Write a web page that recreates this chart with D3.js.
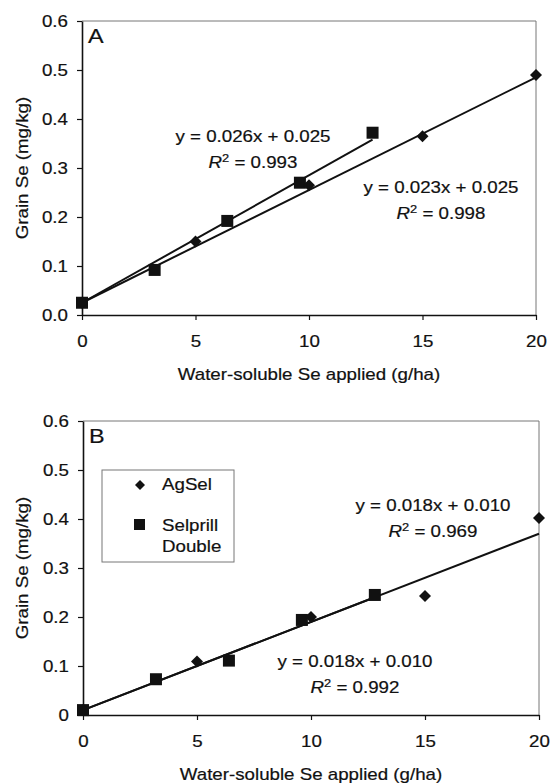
<!DOCTYPE html>
<html>
<head>
<meta charset="utf-8">
<script src="https://cdn.jsdelivr.net/npm/d3@7"></script>
<style>
  body { margin: 0; background: #fff; }
  text { font-family: "Liberation Sans", Arial, sans-serif; fill: #111; stroke: #111; stroke-width: 0.2px; }
</style>
</head>
<body>
<div id="vis"></div>
<script>
const WIDTH = 550;
const HEIGHT = 783;
const STRETCH = 1.17;

// data
const xTicks = [0, 5, 10, 15, 20];
const yTickVals = [0, 0.1, 0.2, 0.3, 0.4, 0.5, 0.6];
const yLabelsA = ["0.0", "0.1", "0.2", "0.3", "0.4", "0.5", "0.6"];
const yLabelsB = ["0", "0.1", "0.2", "0.3", "0.4", "0.5", "0.6"];

const agselX = [0, 5, 10, 15, 20];
const agselA = [0.025, 0.15, 0.265, 0.365, 0.49];
const agselB = [0.01, 0.109, 0.2, 0.243, 0.402];

const selprillX = [0, 3.2, 6.4, 9.6, 12.8];
const selprillA = [0.025, 0.092, 0.192, 0.27, 0.372];
const selprillB = [0.01, 0.073, 0.111, 0.194, 0.245];

// trendline equations as printed
const agselTrendA = [0.023, 0.025];
const selprillTrendA = [0.026, 0.025];
const agselTrendB = [0.018, 0.010];
const selprillTrendB = [0.018, 0.010];

const r2A = ["0.993", "0.998"];
const r2B = ["0.969", "0.992"];

const svg = d3.select("#vis").append("svg")
    .attr("width", WIDTH)
    .attr("height", HEIGHT);

// text is drawn a bit wider than normal, like the original
function label(g, x, y, str, anchor, size, rot) {
    return g.append("text")
        .attr("transform", "translate(" + x + "," + y + ")" + (rot ? " rotate(" + rot + ")" : "") + " scale(" + STRETCH + ",1)")
        .attr("text-anchor", anchor)
        .style("font-size", size + "px")
        .text(str);
}

function eqLabel(g, x, y, slope, icpt, r2) {
    label(g, x, y, "y = " + slope.toFixed(3) + "x + " + icpt.toFixed(3), "middle", 16);
    const t = g.append("text")
        .attr("transform", "translate(" + x + "," + (y + 26) + ") scale(" + STRETCH + ",1)")
        .attr("text-anchor", "middle")
        .style("font-size", "16px");
    t.append("tspan").style("font-style", "italic").text("R");
    t.append("tspan").attr("dy", -6).style("font-size", "11px").text("2");
    t.append("tspan").attr("dy", 6).text(" = " + r2);
}

function panel(p) {
    const g = svg.append("g");
    const x = d3.scaleLinear().domain([0, 20]).range([p.left, p.right]);
    const y = d3.scaleLinear().domain([0, 0.6]).range([p.bottom, p.top]);

    // frame top / right
    g.append("path")
        .attr("d", "M" + p.left + "," + p.top + "H" + p.right + "V" + p.bottom)
        .attr("fill", "none")
        .attr("stroke", "#777")
        .attr("stroke-width", 1);

    const xa = g.append("g")
        .attr("transform", "translate(0," + p.bottom + ")")
        .call(d3.axisBottom(x).tickValues(xTicks).tickSize(5).tickSizeOuter(0).tickPadding(16).tickFormat(d3.format("d")));
    const ya = g.append("g")
        .attr("transform", "translate(" + p.left + ",0)")
        .call(d3.axisLeft(y).tickValues(yTickVals).tickSize(5).tickSizeOuter(0).tickPadding(7)
            .tickFormat((d, i) => p.yLabels[i]));
    [xa, ya].forEach(a => {
        a.select(".domain").attr("stroke", "#111").attr("stroke-width", 1.6);
        a.selectAll(".tick line").attr("stroke", "#111").attr("stroke-width", 1.2);
        a.selectAll(".tick text")
            .attr("font-family", null).attr("font-size", null)
            .style("font-size", "16px").attr("fill", "#111");
    });
    xa.selectAll(".tick text").attr("transform", "scale(" + STRETCH + ",1)");
    ya.selectAll(".tick text").attr("transform", "scale(" + STRETCH + ",1)").attr("dy", "0.35em");

    // trendlines
    const line = d3.line().x(d => x(d[0])).y(d => y(d[1]));
    [[p.agTrend, agselX], [p.selTrend, selprillX]].forEach(([tr, xs]) => {
        const ext = d3.extent(xs);
        g.append("path")
            .datum(ext.map(v => [v, tr[0] * v + tr[1]]))
            .attr("d", line)
            .attr("fill", "none")
            .attr("stroke", "#111")
            .attr("stroke-width", 2);
    });

    // markers
    g.selectAll("rect.sel")
        .data(selprillX.map((v, i) => [v, p.selY[i]]))
        .enter().append("rect")
        .attr("class", "sel")
        .attr("x", d => x(d[0]) - 6)
        .attr("y", d => y(d[1]) - 6)
        .attr("width", 12)
        .attr("height", 12)
        .attr("fill", "#111");
    g.selectAll("path.ag")
        .data(agselX.map((v, i) => [v, p.agY[i]]))
        .enter().append("path")
        .attr("class", "ag")
        .attr("d", d3.symbol(d3.symbolSquare, 72))
        .attr("transform", d => "translate(" + x(d[0]) + "," + y(d[1]) + ") rotate(45)")
        .attr("fill", "#111");

    label(g, p.left + 6, p.top + 22, p.name, "start", 20);
    label(g, (p.left + p.right) / 2, p.bottom + 65, "Water-soluble Se applied (g/ha)", "middle", 16);
    label(g, 28, (p.top + p.bottom) / 2, "Grain Se (mg/kg)", "middle", 16, -90);

    p.eqs.forEach(e => eqLabel(g, e[0], e[1], e[2][0], e[2][1], e[3]));
    return g;
}

panel({
    name: "A", left: 82, right: 536, top: 21, bottom: 315,
    yLabels: yLabelsA, agY: agselA, selY: selprillA,
    agTrend: agselTrendA, selTrend: selprillTrendA,
    eqs: [[253, 142, selprillTrendA, r2A[0]], [441, 193, agselTrendA, r2A[1]]]
});

const gB = panel({
    name: "B", left: 83, right: 539, top: 421, bottom: 715,
    yLabels: yLabelsB, agY: agselB, selY: selprillB,
    agTrend: agselTrendB, selTrend: selprillTrendB,
    eqs: [[433, 511, agselTrendB, r2B[0]], [355, 667, selprillTrendB, r2B[1]]]
});

// legend
const leg = gB.append("g");
leg.append("rect")
    .attr("x", 102).attr("y", 470).attr("width", 132).attr("height", 92)
    .attr("fill", "#fff").attr("stroke", "#777").attr("stroke-width", 1);
leg.append("path")
    .attr("d", d3.symbol(d3.symbolSquare, 50))
    .attr("transform", "translate(140,485) rotate(45)")
    .attr("fill", "#111");
leg.append("rect")
    .attr("x", 134).attr("y", 519).attr("width", 11).attr("height", 11)
    .attr("fill", "#111");
label(leg, 162, 490, "AgSel", "start", 16);
label(leg, 162, 531, "Selprill", "start", 16);
label(leg, 162, 552, "Double", "start", 16);
</script>
</body>
</html>
